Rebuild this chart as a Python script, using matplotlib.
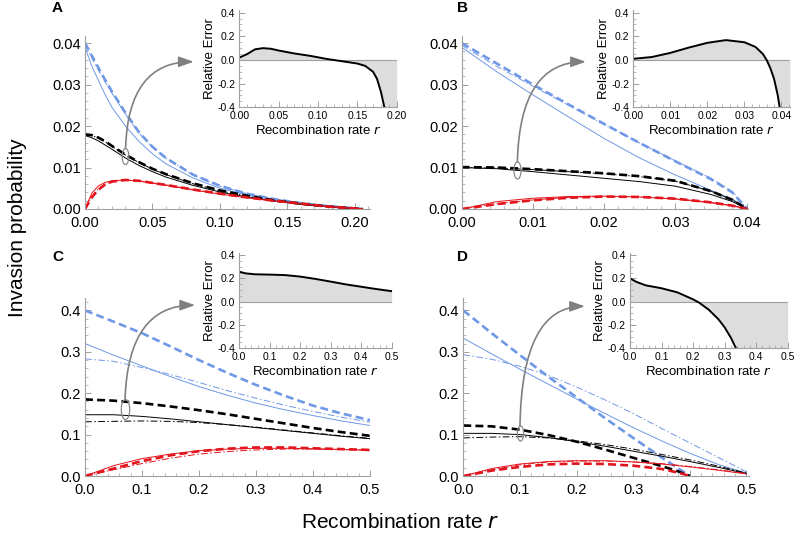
import numpy as np
import matplotlib
matplotlib.use('Agg')
import matplotlib.pyplot as plt
from matplotlib.patches import ConnectionPatch, ArrowStyle

plt.rcParams['font.family'] = ['Liberation Sans', 'DejaVu Sans']

## ---------------- data ----------------
# panel A  (r from 0 to ~0.206)
rA = [0, 0.005, 0.01, 0.015, 0.02, 0.03, 0.04, 0.05, 0.06, 0.08, 0.10, 0.12, 0.14, 0.16, 0.18, 0.206]
blue_dash_A = [0.040, 0.0370, 0.0340, 0.0311, 0.0283, 0.0232, 0.0185, 0.0150, 0.0123, 0.0083, 0.0056, 0.0037, 0.0024, 0.0014, 0.0007, 0]
blue_thin_A = [0.039, 0.0345, 0.0310, 0.0275, 0.0245, 0.0200, 0.0163, 0.0133, 0.0109, 0.0075, 0.0050, 0.0034, 0.0022, 0.0013, 0.0006, 0]
blue_dd_A = [0.0396, 0.0364, 0.0334, 0.0306, 0.0279, 0.0229, 0.0183, 0.0149, 0.0122, 0.0082, 0.0055, 0.0037, 0.0024, 0.0014, 0.0007, 0]
black_dash_A = [0.0180, 0.0178, 0.0172, 0.0163, 0.0152, 0.0131, 0.0113, 0.0097, 0.0084, 0.0062, 0.0045, 0.0032, 0.0021, 0.0013, 0.0006, 0]
black_thin_A = [0.0177, 0.0172, 0.0164, 0.0154, 0.0144, 0.0123, 0.0105, 0.0090, 0.0077, 0.0057, 0.0041, 0.0029, 0.0019, 0.0011, 0.0005, 0]
black_dd_A = [0.0179, 0.0177, 0.0171, 0.0162, 0.0151, 0.0130, 0.0112, 0.0096, 0.0083, 0.0061, 0.0044, 0.0031, 0.0021, 0.0013, 0.0006, 0]
red_dash_A = [0, 0.0028, 0.0047, 0.0059, 0.0066, 0.0070, 0.0068, 0.0063, 0.0058, 0.0047, 0.0037, 0.0028, 0.0020, 0.0013, 0.0006, 0]
red_thin_A = [0, 0.0038, 0.0056, 0.0064, 0.0068, 0.0070, 0.0067, 0.0062, 0.0057, 0.0046, 0.0036, 0.0027, 0.0019, 0.0012, 0.0006, 0]
red_dd_A = [0, 0.0030, 0.0049, 0.0060, 0.0066, 0.0070, 0.0068, 0.0063, 0.0058, 0.0047, 0.0037, 0.0028, 0.0020, 0.0013, 0.0006, 0]

rA_in = [0, 0.01, 0.02, 0.03, 0.04, 0.05, 0.07, 0.09, 0.11, 0.12, 0.14, 0.15, 0.16, 0.17, 0.175, 0.18, 0.185, 0.19, 0.2]
err_A = [0.02, 0.05, 0.09, 0.10, 0.095, 0.08, 0.055, 0.035, 0.01, 0.0, -0.02, -0.03, -0.05, -0.10, -0.16, -0.27, -0.42, -0.7, -2.0]

# panel B  (r from 0 to ~0.0401)
rB = [0, 0.005, 0.01, 0.015, 0.02, 0.025, 0.03, 0.035, 0.038, 0.0401]
blue_dash_B = [0.040, 0.0350, 0.0300, 0.0252, 0.0205, 0.0159, 0.0115, 0.0072, 0.0040, 0]
blue_thin_B = [0.039, 0.0330, 0.0275, 0.0222, 0.0170, 0.0123, 0.0082, 0.0045, 0.0024, 0]
blue_dd_B = [0.0395, 0.0343, 0.0296, 0.0250, 0.0204, 0.0159, 0.0116, 0.0074, 0.0042, 0]
black_dash_B = [0.0101, 0.0100, 0.0096, 0.0091, 0.0086, 0.0079, 0.0068, 0.0043, 0.0022, 0]
black_thin_B = [0.0100, 0.0097, 0.0090, 0.0082, 0.0074, 0.0066, 0.0055, 0.0035, 0.0018, 0]
black_dd_B = [0.0100, 0.0099, 0.0095, 0.0090, 0.0085, 0.0078, 0.0067, 0.0043, 0.0022, 0]
red_dash_B = [0, 0.0012, 0.0021, 0.0027, 0.0030, 0.0029, 0.0025, 0.0016, 0.0008, 0]
red_thin_B = [0, 0.0018, 0.0026, 0.0030, 0.0031, 0.0029, 0.0024, 0.0015, 0.0008, 0]
red_dd_B = [0, 0.0013, 0.0022, 0.0028, 0.0030, 0.0029, 0.0025, 0.0016, 0.0008, 0]

rB_in = [0, 0.005, 0.01, 0.015, 0.02, 0.025, 0.03, 0.033, 0.035, 0.036, 0.037, 0.038, 0.039, 0.0395, 0.040, 0.0423]
err_B = [0.01, 0.025, 0.06, 0.105, 0.145, 0.168, 0.15, 0.11, 0.05, 0.0, -0.07, -0.16, -0.30, -0.40, -0.55, -1.5]

# panel C  (r from 0 to 0.5)
rC = [0, 0.05, 0.1, 0.15, 0.2, 0.25, 0.3, 0.35, 0.4, 0.45, 0.5]
blue_dash_C = [0.400, 0.373, 0.345, 0.313, 0.280, 0.249, 0.220, 0.194, 0.170, 0.151, 0.135]
blue_thin_C = [0.320, 0.292, 0.266, 0.240, 0.216, 0.195, 0.176, 0.160, 0.146, 0.133, 0.122]
blue_dd_C = [0.283, 0.277, 0.262, 0.245, 0.226, 0.206, 0.188, 0.171, 0.156, 0.142, 0.130]
black_dash_C = [0.185, 0.182, 0.176, 0.168, 0.159, 0.149, 0.138, 0.127, 0.116, 0.106, 0.097]
black_thin_C = [0.148, 0.148, 0.144, 0.138, 0.131, 0.124, 0.117, 0.110, 0.103, 0.096, 0.090]
black_dd_C = [0.131, 0.132, 0.133, 0.132, 0.129, 0.124, 0.118, 0.111, 0.104, 0.097, 0.091]
red_dash_C = [0, 0.018, 0.036, 0.050, 0.060, 0.066, 0.069, 0.069, 0.067, 0.065, 0.063]
red_thin_C = [0, 0.025, 0.042, 0.053, 0.061, 0.065, 0.067, 0.067, 0.066, 0.064, 0.062]
red_dd_C = [0, 0.015, 0.030, 0.043, 0.053, 0.059, 0.063, 0.065, 0.065, 0.064, 0.063]

rC_in = [0, 0.02, 0.05, 0.1, 0.15, 0.2, 0.25, 0.3, 0.35, 0.4, 0.45, 0.5]
err_C = [0.257, 0.243, 0.235, 0.232, 0.228, 0.215, 0.195, 0.172, 0.148, 0.128, 0.108, 0.090]

# panel D  (r from 0 to 0.5, dashed curves stop at 0.4)
rD = [0, 0.05, 0.1, 0.15, 0.2, 0.25, 0.3, 0.35, 0.4, 0.45, 0.5]
rD_dash = [0, 0.05, 0.1, 0.15, 0.2, 0.25, 0.3, 0.35, 0.38, 0.4]
blue_dash_D = [0.400, 0.345, 0.292, 0.240, 0.190, 0.140, 0.092, 0.045, 0.018, 0]
blue_thin_D = [0.333, 0.295, 0.258, 0.222, 0.186, 0.151, 0.117, 0.085, 0.055, 0.028, 0.007]
blue_dd_D = [0.293, 0.282, 0.265, 0.243, 0.215, 0.184, 0.151, 0.115, 0.080, 0.045, 0.010]
black_dash_D = [0.122, 0.120, 0.112, 0.099, 0.083, 0.064, 0.044, 0.024, 0.011, 0]
black_thin_D = [0.103, 0.103, 0.100, 0.093, 0.083, 0.072, 0.060, 0.048, 0.035, 0.021, 0.006]
black_dd_D = [0.092, 0.094, 0.095, 0.092, 0.085, 0.076, 0.065, 0.052, 0.039, 0.024, 0.007]
red_dash_D = [0, 0.013, 0.022, 0.028, 0.030, 0.029, 0.025, 0.017, 0.008, 0]
red_thin_D = [0, 0.018, 0.029, 0.035, 0.037, 0.037, 0.034, 0.029, 0.022, 0.014, 0.005]
red_dd_D = [0, 0.015, 0.027, 0.034, 0.036, 0.036, 0.034, 0.030, 0.023, 0.015, 0.006]

rD_in = [0, 0.02, 0.05, 0.1, 0.15, 0.2, 0.22, 0.25, 0.28, 0.3, 0.32, 0.336, 0.35, 0.5]
err_D = [0.20, 0.17, 0.14, 0.115, 0.08, 0.02, -0.01, -0.07, -0.15, -0.22, -0.31, -0.40, -0.48, -2.0]

## ---------------- styles ----------------
BLUE = '#6f98e6'
RED = '#e3141c'
BLACK = 'black'
AXGRAY = '#a0a0a0'
W, H = 797, 536

fig = plt.figure(figsize=(W / 100, H / 100), dpi=100)


def px_axes(left, right, top, bottom):
    # build an axes from a pixel box (origin top-left)
    return fig.add_axes([left / W, 1 - bottom / H, (right - left) / W, (bottom - top) / H])


def style_axes(ax, size):
    for s in ['top', 'right']:
        ax.spines[s].set_visible(False)
    for s in ['left', 'bottom']:
        ax.spines[s].set_color(AXGRAY)
        ax.spines[s].set_linewidth(0.8)
    ax.tick_params(which='both', direction='in', color=AXGRAY, labelsize=size)
    ax.tick_params(axis='y', pad=3)
    ax.tick_params(axis='x', pad=5 if size > 9 else 3)
    ax.tick_params(which='major', length=4, width=0.7)
    ax.tick_params(which='minor', length=2, width=0.5)
    ax.patch.set_alpha(0)


def draw_family(ax, r, dash, thin, dd, color, rdash=None):
    if rdash is None:
        rdash = r
    ax.plot(r, thin, color=color, lw=0.7)
    ax.plot(r, dd, color=color, lw=0.7, ls=(0, (7, 2.5, 1.5, 2.5)))
    ax.plot(rdash, dash, color=color, lw=1.9, ls=(0, (3, 1.6)))


def main_panel(box, xlim, ylim, xmaj, ymaj, xfmt, yfmt):
    ax = px_axes(*box)
    style_axes(ax, 10.5)
    ax.set_xlim(xlim)
    ax.set_ylim(ylim)
    ax.set_xticks(np.arange(0, xlim[1] + 1e-9, xmaj))
    ax.set_xticks(np.arange(0, xlim[1] + 1e-9, xmaj / 5), minor=True)
    ax.set_yticks(np.arange(0, ylim[1] + 1e-9, ymaj))
    ax.set_yticks(np.arange(0, ylim[1] + 1e-9, ymaj / 5), minor=True)
    ax.xaxis.set_major_formatter(plt.FormatStrFormatter(xfmt))
    ax.yaxis.set_major_formatter(plt.FormatStrFormatter(yfmt))
    return ax


def inset_panel(box, xlim, xmaj, xfmt, r, err):
    ax = px_axes(*box)
    style_axes(ax, 7.5)
    ax.set_xlim(xlim)
    ax.set_ylim(-0.4, 0.42)
    ax.set_xticks(np.arange(0, xlim[1] + 1e-9, xmaj))
    ax.set_xticks(np.arange(0, xlim[1] + 1e-9, xmaj / 5), minor=True)
    ax.set_yticks([-0.4, -0.2, 0.0, 0.2, 0.4])
    ax.set_yticks(np.arange(-0.4, 0.41, 0.05), minor=True)
    ax.xaxis.set_major_formatter(plt.FormatStrFormatter(xfmt))
    ax.yaxis.set_major_formatter(plt.FormatStrFormatter('%.1f'))
    ax.fill_between(r, err, 0, color='#dddddd', lw=0)
    ax.axhline(0, color=AXGRAY, lw=0.8)
    ax.plot(r, err, color='black', lw=1.4)
    ax.set_ylabel('Relative Error', fontsize=9.5, labelpad=1)
    ax.set_xlabel('Recombination rate $r$', fontsize=9.5, labelpad=2)
    return ax


t = np.linspace(0, 2 * np.pi, 60)
oval = np.column_stack([0.42 * np.cos(t), np.sin(t)])


def pointer(ax, inset, center, size_px, end):
    # small oval on the black curves and the curved arrow into the inset
    ax.plot([center[0]], [center[1]], marker=oval, ms=size_px * 0.72, mfc='none',
            mec='#888888', mew=0.9, clip_on=False)
    con = ConnectionPatch(xyA=center, coordsA=ax.transData, xyB=end, coordsB=inset.transData,
                          arrowstyle=ArrowStyle('-|>', head_length=0.9, head_width=0.32),
                          connectionstyle='angle3,angleA=90,angleB=0',
                          shrinkA=size_px * 0.36, shrinkB=0, mutation_scale=10,
                          color='#808080', lw=1.2)
    fig.add_artist(con)


# ---- A ----
axA = main_panel((85, 370, 36, 209), (0, 0.2114), (0, 0.0417), 0.05, 0.01, '%.2f', '%.2f')
draw_family(axA, rA, blue_dash_A, blue_thin_A, blue_dd_A, BLUE)
draw_family(axA, rA, black_dash_A, black_thin_A, black_dd_A, BLACK)
draw_family(axA, rA, red_dash_A, red_thin_A, red_dd_A, RED)
inA = inset_panel((239.3, 396.7, 10.3, 107.3), (0, 0.2), 0.05, '%.2f', rA_in, err_A)
pointer(axA, inA, (0.030, 0.0128), 16, (-0.058, -0.015))

# ---- B ----
axB = main_panel((461.7, 748, 36, 209), (0, 0.0402), (0, 0.0417), 0.01, 0.01, '%.2f', '%.2f')
draw_family(axB, rB, blue_dash_B, blue_thin_B, blue_dd_B, BLUE)
draw_family(axB, rB, black_dash_B, black_thin_B, black_dd_B, BLACK)
draw_family(axB, rB, red_dash_B, red_thin_B, red_dd_B, RED)
inB = inset_panel((633.3, 790, 10.3, 107.3), (0, 0.0423), 0.01, '%.2f', rB_in, err_B)
pointer(axB, inB, (0.0078, 0.0094), 17, (-0.0128, -0.015))

# ---- C ----
axC = main_panel((85, 370, 298, 476), (0, 0.5), (0, 0.43), 0.1, 0.1, '%.1f', '%.1f')
draw_family(axC, rC, blue_dash_C, blue_thin_C, blue_dd_C, BLUE)
draw_family(axC, rC, black_dash_C, black_thin_C, black_dd_C, BLACK)
draw_family(axC, rC, red_dash_C, red_thin_C, red_dd_C, RED)
inC = inset_panel((239.3, 391.7, 252.7, 348.3), (0, 0.5), 0.1, '%.1f', rC_in, err_C)
pointer(axC, inC, (0.07, 0.163), 20, (-0.145, -0.03))

# ---- D ----
axD = main_panel((463.3, 749, 298, 476), (0, 0.5045), (0, 0.43), 0.1, 0.1, '%.1f', '%.1f')
draw_family(axD, rD, blue_dash_D, blue_thin_D, blue_dd_D, BLUE, rD_dash)
draw_family(axD, rD, black_dash_D, black_thin_D, black_dd_D, BLACK, rD_dash)
draw_family(axD, rD, red_dash_D, red_thin_D, red_dd_D, RED, rD_dash)
inD = inset_panel((630, 787.7, 252.7, 348.3), (0, 0.5), 0.1, '%.1f', rD_in, err_D)
pointer(axD, inD, (0.1, 0.103), 15, (-0.143, -0.04))

# panel letters and shared labels
for lab, x, y in [('A', 52, 8), ('B', 457, 8), ('C', 52, 257), ('D', 457, 257)]:
    fig.text(x / W, 1 - y / H, lab, fontsize=11, fontweight='bold', ha='left', va='center')
fig.text(18 / W, 1 - 228 / H, 'Invasion probability', rotation=90, fontsize=15,
         ha='center', va='center')
fig.text(400 / W, 1 - 522 / H, 'Recombination rate $r$', fontsize=15, ha='center', va='center')

fig.savefig('out.png', dpi=100)
